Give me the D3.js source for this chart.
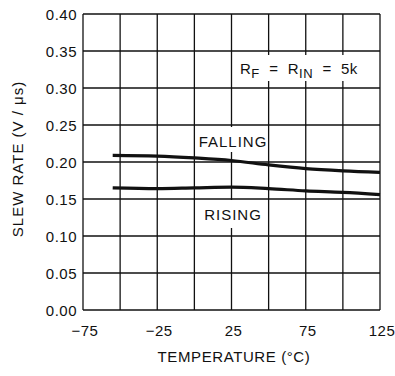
<!DOCTYPE html>
<html><head><meta charset="utf-8">
<script src="https://cdn.jsdelivr.net/npm/d3@7"></script>
<style>body{margin:0;background:#fff}text{font-family:"Liberation Sans",Arial,sans-serif;fill:#111}</style>
</head><body><svg id="c" width="395" height="376"></svg>
<script>
const temps = [-55, -25, 0, 25, 50, 75, 100, 125];
const falling = [0.209, 0.208, 0.2055, 0.202, 0.196, 0.191, 0.188, 0.186];
const rising = [0.165, 0.164, 0.165, 0.166, 0.164, 0.161, 0.159, 0.156];
const xGrid = [-75, -50, -25, 0, 25, 50, 75, 100, 125];
const xTickLabels = [-75, -25, 25, 75, 125];
const yTicks = [0, 0.05, 0.10, 0.15, 0.20, 0.25, 0.30, 0.35, 0.40];

const svg = d3.select("#c");
const L = 83, R = 380, T = 14, B = 310;
const x = d3.scaleLinear().domain([-75, 125]).range([L, R]);
const y = d3.scaleLinear().domain([0, 0.40]).range([B, T]);
const ink = "#111";

const g = svg.append("g");
g.selectAll(".vg").data(xGrid).enter().append("line")
  .attr("x1", d => x(d)).attr("x2", d => x(d)).attr("y1", T).attr("y2", B)
  .attr("stroke", ink).attr("stroke-width", 1.3);
g.selectAll(".hg").data(yTicks).enter().append("line")
  .attr("x1", L).attr("x2", R).attr("y1", d => y(d)).attr("y2", d => y(d))
  .attr("stroke", ink).attr("stroke-width", 1.3);

// y tick labels
svg.selectAll(".yl").data(yTicks).enter().append("text")
  .attr("x", L - 6).attr("y", d => y(d) + 5.5).attr("text-anchor", "end")
  .attr("font-size", 15).attr("letter-spacing", 0.5).text(d => d3.format(".2f")(d));
// x tick labels
svg.selectAll(".xl").data(xTickLabels).enter().append("text")
  .attr("x", d => x(d) + 2).attr("y", B + 26).attr("text-anchor", "middle")
  .attr("font-size", 15).attr("letter-spacing", 0.5).text(d => d < 0 ? "\u2212" + Math.abs(d) : d);

// axis titles
svg.append("text").attr("x", 234).attr("y", 362).attr("text-anchor", "middle")
  .attr("font-size", 15).attr("letter-spacing", 0.6).text("TEMPERATURE (°C)");
svg.append("text").attr("transform", "translate(23,159) rotate(-90)").attr("text-anchor", "middle")
  .attr("font-size", 15).attr("letter-spacing", 1).text("SLEW RATE (V / μs)");

// curves
const line = d3.line().x((d, i) => x(temps[i])).y(d => y(d)).curve(d3.curveMonotoneX);
[falling, rising].forEach(s => {
  svg.append("path").attr("d", line(s)).attr("fill", "none").attr("stroke", ink).attr("stroke-width", 3.2);
});

// labels with white backgrounds
function label(top, bottom, left, right) {
  svg.append("rect").attr("x", left).attr("y", top).attr("width", right - left).attr("height", bottom - top).attr("fill", "#fff");
}
label(127, 152, 200, 266);
svg.append("text").attr("x", 233).attr("y", 147).attr("text-anchor", "middle").attr("font-size", 15).attr("letter-spacing", 1).text("FALLING");
label(200, 228, 205, 261);
svg.append("text").attr("x", 233).attr("y", 220).attr("text-anchor", "middle").attr("font-size", 15).attr("letter-spacing", 1).text("RISING");
label(55, 81, 235, 360);
const ann = svg.append("text").attr("x", 240).attr("y", 74).attr("font-size", 15).attr("letter-spacing", 0.5).attr("xml:space", "preserve");
ann.append("tspan").text("R");
ann.append("tspan").attr("font-size", 13).attr("dy", 4).text("F");
ann.append("tspan").attr("dy", -4).text("  =  R");
ann.append("tspan").attr("font-size", 13).attr("dy", 4).text("IN");
ann.append("tspan").attr("dy", -4).text("  =  5k");
</script></body></html>
